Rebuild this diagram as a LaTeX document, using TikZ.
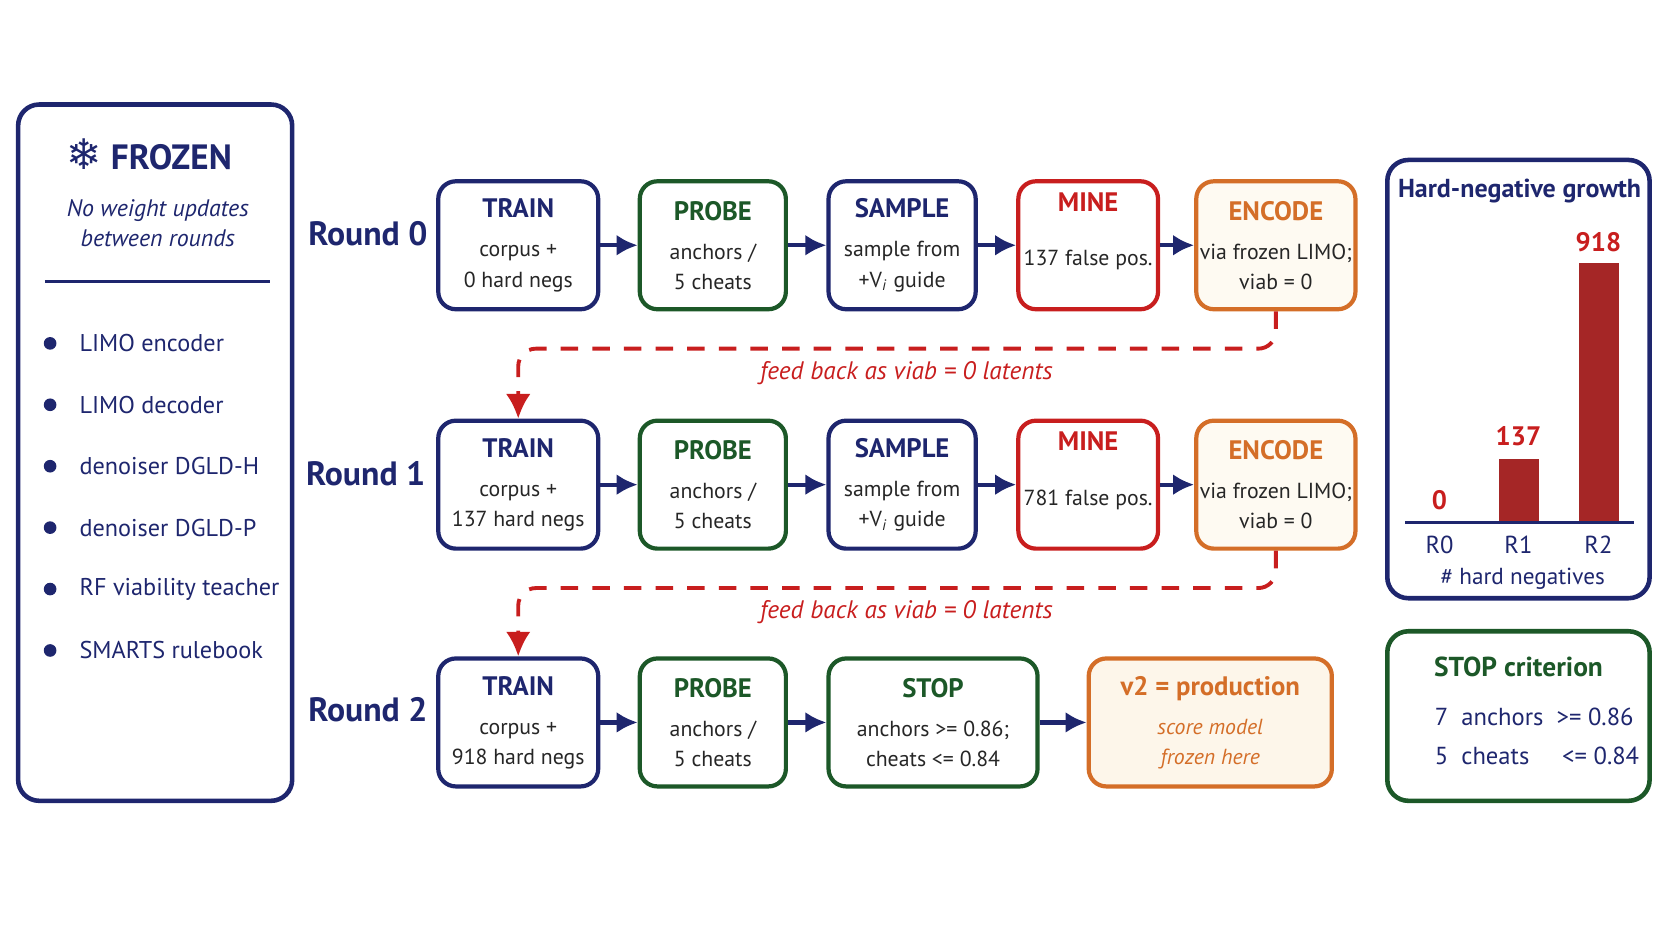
\documentclass[tikz,border=0pt]{standalone}
\usepackage{fontspec}
\setmainfont{PT Sans}
\newfontfamily\symfont{DejaVu Sans}
\usetikzlibrary{arrows.meta,positioning}
\definecolor{loopnavy}{RGB}{30,38,110}
\definecolor{loopgreen}{RGB}{28,88,40}
\definecolor{loopred}{RGB}{200,30,30}
\definecolor{looporange}{RGB}{212,110,40}
\definecolor{barred}{RGB}{165,38,38}
\definecolor{creamfill}{RGB}{253,246,234}
\def\u{0.010664cm}
\newcommand{\stage}[3]{{\fontsize{7.6}{9}\selectfont\bfseries\color{#1}#2}\\[2.5pt]#3}

\begin{document}
\begin{tikzpicture}[
    x=\u, y=-\u,
    box/.style={rectangle, draw, line width=1.2pt, rounded corners=5pt, align=center, inner sep=1pt,
        minimum height=120*\u, font=\fontsize{6.2}{8.6}\selectfont, text=black!85},
    navybox/.style={box, draw=loopnavy},
    greenbox/.style={box, draw=loopgreen},
    redbox/.style={box, draw=loopred},
    orangebox/.style={box, draw=looporange, fill=creamfill!60},
    arrow/.style={-{Latex[length=6pt,width=6pt]}, line width=1.2pt, loopnavy},
    feedback/.style={-{Latex[length=7pt,width=7pt]}, line width=1.1pt, loopred, dash pattern=on 5pt off 4pt, rounded corners=5pt},
    roundlbl/.style={font=\fontsize{9.6}{11}\selectfont\bfseries, text=loopnavy},
    fblbl/.style={font=\fontsize{7.2}{9}\selectfont\itshape, text=loopred}
]
    \useasboundingbox (0,0) rectangle (1568,882);

    % Frozen panel
    \draw[loopnavy, line width=1.3pt, rounded corners=6pt] (17,98) rectangle (274,751);
    \node[text=loopnavy, font=\fontsize{10}{12}\selectfont\bfseries] (frozen) at (140,145) {{\symfont\fontsize{12}{12}\selectfont ❄}\ FROZEN};
    \node[text=loopnavy, font=\fontsize{6.8}{8.6}\selectfont\itshape, align=center] (noupd) at (148,209) {No weight updates\\between rounds};
    \draw[loopnavy, line width=0.9pt] (42,264) -- (253,264);
    \foreach \txt [count=\i] in {LIMO encoder, LIMO decoder, denoiser DGLD-H, denoiser DGLD-P, RF viability teacher, SMARTS rulebook} {
        \fill[loopnavy] (47,{322+(\i-1)*57.6}) circle (1.8pt);
        \node[anchor=west, text=loopnavy, font=\fontsize{6.9}{9}\selectfont] (item\i) at (63,{322+(\i-1)*57.6}) {\txt};
    }

    % Round labels
    \node[roundlbl] (r0) at (345,219) {Round 0};
    \node[roundlbl] (r1) at (343,444) {Round 1};
    \node[roundlbl] (r2) at (345,666) {Round 2};

    % Round 0
    \node[navybox, minimum width=150*\u] (train0) at (486,230) {\stage{loopnavy}{TRAIN}{corpus +\\0 hard negs}};
    \node[greenbox, minimum width=137*\u] (probe0) at (668.5,230) {\stage{loopgreen}{PROBE}{anchors /\\5 cheats}};
    \node[navybox, minimum width=138*\u] (sample0) at (846,230) {\stage{loopnavy}{SAMPLE}{sample from\\+V\textsubscript{\itshape i} guide}};
    \node[redbox, minimum width=131*\u] (mine0) at (1020.5,230) {\stage{loopred}{MINE}{\rule{0pt}{12pt}137 false pos.\\[-2pt]\strut}};
    \node[orangebox, minimum width=145*\u] (encode0) at (1196.5,230) {\stage{looporange}{ENCODE}{via frozen LIMO;\\viab = 0}};

    % Round 1
    \node[navybox, minimum width=150*\u] (train1) at (486,454.5) {\stage{loopnavy}{TRAIN}{corpus +\\137 hard negs}};
    \node[greenbox, minimum width=137*\u] (probe1) at (668.5,454.5) {\stage{loopgreen}{PROBE}{anchors /\\5 cheats}};
    \node[navybox, minimum width=138*\u] (sample1) at (846,454.5) {\stage{loopnavy}{SAMPLE}{sample from\\+V\textsubscript{\itshape i} guide}};
    \node[redbox, minimum width=131*\u] (mine1) at (1020.5,454.5) {\stage{loopred}{MINE}{\rule{0pt}{12pt}781 false pos.\\[-2pt]\strut}};
    \node[orangebox, minimum width=145*\u] (encode1) at (1196.5,454.5) {\stage{looporange}{ENCODE}{via frozen LIMO;\\viab = 0}};

    % Round 2
    \node[navybox, minimum width=150*\u] (train2) at (486,677.5) {\stage{loopnavy}{TRAIN}{corpus +\\918 hard negs}};
    \node[greenbox, minimum width=137*\u] (probe2) at (668.5,677.5) {\stage{loopgreen}{PROBE}{anchors /\\5 cheats}};
    \node[greenbox, minimum width=196*\u] (stop) at (875,677.5) {\stage{loopgreen}{STOP}{anchors >= 0.86;\\cheats <= 0.84}};
    \node[orangebox, fill=creamfill, minimum width=228*\u] (prod) at (1135,677.5) {\stage{looporange}{v2 = production}{\color{looporange}\itshape score model\\\color{looporange}\itshape frozen here}};

    % Arrows
    \foreach \r in {0,1} {
        \draw[arrow] (train\r) -- (probe\r);
        \draw[arrow] (probe\r) -- (sample\r);
        \draw[arrow] (sample\r) -- (mine\r);
        \draw[arrow] (mine\r) -- (encode\r);
    }
    \draw[arrow] (train2) -- (probe2);
    \draw[arrow] (probe2) -- (stop);
    \draw[arrow] (stop) -- (prod);

    % Feedback loops
    \draw[feedback] (encode0.south) -- ++(0,35) -| (train1.north);
    \node[fblbl] (fb0) at (850,350) {feed back as viab = 0 latents};
    \draw[feedback] (encode1.south) -- ++(0,35) -| (train2.north);
    \node[fblbl] (fb1) at (850,574) {feed back as viab = 0 latents};

    % Hard-negative growth chart
    \draw[loopnavy, line width=1.3pt, rounded corners=6pt] (1301,150) rectangle (1547,561);
    \node[text=loopnavy, font=\fontsize{7.4}{9}\selectfont\bfseries] (charttitle) at (1425,179) {Hard-negative growth};
    \fill[barred] (1406,430) rectangle (1443,490);
    \fill[barred] (1481,247) rectangle (1518,490);
    \draw[loopnavy, line width=1pt] (1318,490) -- (1532,490);
    \node[text=loopred, font=\fontsize{7.6}{9}\selectfont\bfseries] (v0) at (1350,469) {0};
    \node[text=loopred, font=\fontsize{7.6}{9}\selectfont\bfseries] (v1) at (1424,409) {137};
    \node[text=loopred, font=\fontsize{7.6}{9}\selectfont\bfseries] (v2) at (1499,227) {918};
    \foreach \lbl/\xx in {R0/1350, R1/1424, R2/1499}
        \node[text=loopnavy, font=\fontsize{7}{9}\selectfont] (lbl\lbl) at (\xx,511) {\lbl};
    \node[text=loopnavy, font=\fontsize{6.6}{8}\selectfont] (axislbl) at (1428,543) {\# hard negatives};

    % STOP criterion
    \draw[loopgreen, line width=1.3pt, rounded corners=6pt] (1301,592) rectangle (1547,751);
    \node[text=loopgreen, font=\fontsize{7.8}{9}\selectfont\bfseries] (crit) at (1424,625) {STOP criterion};
    \node[text=loopnavy, font=\fontsize{7}{9}\selectfont, anchor=west] (crit1) at (1334,672) {7\ \ anchors \ >= 0.86};
    \node[text=loopnavy, font=\fontsize{7}{9}\selectfont, anchor=west] (crit2) at (1334,709) {5\ \ cheats \ \ \ \ <= 0.84};
\end{tikzpicture}
\end{document}
